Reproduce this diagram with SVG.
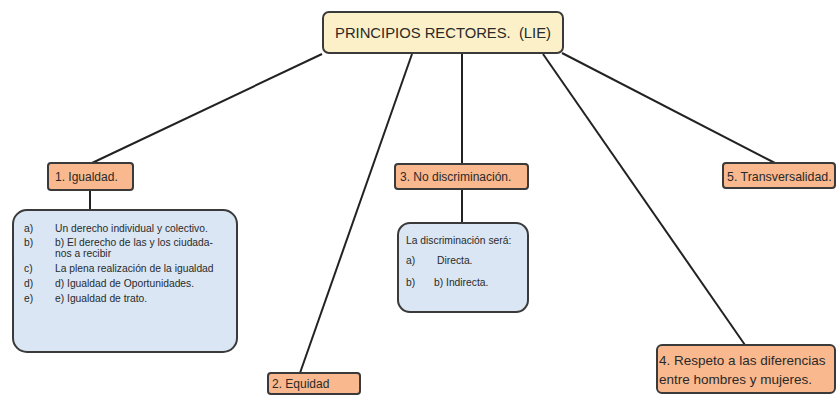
<svg xmlns="http://www.w3.org/2000/svg" width="837" height="397" viewBox="0 0 837 397">
<style>
text{font-family:"Liberation Sans",Arial,sans-serif;fill:#2a2a2a}
.title{fill:#fcf0c8;stroke:#3a3a3a;stroke-width:2}
.org{fill:#f9b88e;stroke:#3a3a3a;stroke-width:2}
.blue{fill:#dae6f4;stroke:#3a3a3a;stroke-width:2}
.lbl{font-size:12px}
.sm{font-size:10.3px}
.conn line{stroke:#222;stroke-width:2}
</style>
<rect width="837" height="397" fill="#fff"/>
<g class="conn">
<line x1="322" y1="54" x2="92" y2="163"/>
<line x1="412" y1="54" x2="300" y2="373"/>
<line x1="462" y1="54" x2="462" y2="164"/>
<line x1="543" y1="54" x2="745" y2="345"/>
<line x1="562" y1="53" x2="775" y2="163"/>
<line x1="90" y1="190" x2="90" y2="210"/>
<line x1="462" y1="189" x2="462" y2="223"/>
</g>
<g id="title">
<rect class="title" x="323" y="12" width="240" height="41" rx="6"/>
<text x="443" y="38" text-anchor="middle" font-size="14.8" xml:space="preserve">PRINCIPIOS RECTORES.  (LIE)</text>
</g>
<g id="igualdad">
<rect class="org" x="48" y="163" width="85" height="27" rx="3"/>
<text class="lbl" x="55" y="181">1. Igualdad.</text>
</g>
<g id="igualdad-items">
<rect class="blue" x="13" y="210" width="224" height="142" rx="14"/>
<text class="sm" x="24" y="232">a)</text><text class="sm" x="55" y="232">Un derecho individual y colectivo.</text>
<text class="sm" x="24" y="246">b)</text><text class="sm" x="55" y="246">b) El derecho de las y los ciudada-</text>
<text class="sm" x="55" y="257">nos a recibir</text>
<text class="sm" x="24" y="272">c)</text><text class="sm" x="55" y="272">La plena realización de la igualdad</text>
<text class="sm" x="24" y="287">d)</text><text class="sm" x="55" y="287">d) Igualdad de Oportunidades.</text>
<text class="sm" x="24" y="302">e)</text><text class="sm" x="55" y="302">e) Igualdad de trato.</text>
</g>
<g id="equidad">
<rect class="org" x="268" y="373" width="92" height="21" rx="3"/>
<text class="lbl" x="272" y="388">2. Equidad</text>
</g>
<g id="nodisc">
<rect class="org" x="395" y="164" width="133" height="25" rx="3"/>
<text class="lbl" x="400" y="181">3. No discriminación.</text>
</g>
<g id="nodisc-items">
<rect class="blue" x="398" y="223" width="130" height="89" rx="12"/>
<text class="sm" x="406" y="244">La discriminación será:</text>
<text class="sm" x="406" y="264">a)</text><text class="sm" x="437" y="264">Directa.</text>
<text class="sm" x="406" y="286">b)</text><text class="sm" x="434" y="286">b) Indirecta.</text>
</g>
<g id="respeto">
<rect class="org" x="657" y="345" width="178" height="48" rx="5"/>
<text x="659" y="365" font-size="13.5">4. Respeto a las diferencias</text>
<text x="659" y="384" font-size="13.5">entre hombres y mujeres.</text>
</g>
<g id="transversalidad">
<rect class="org" x="723" y="163" width="112" height="25" rx="3"/>
<text x="727" y="181" font-size="12.4">5. Transversalidad.</text>
</g>
</svg>
